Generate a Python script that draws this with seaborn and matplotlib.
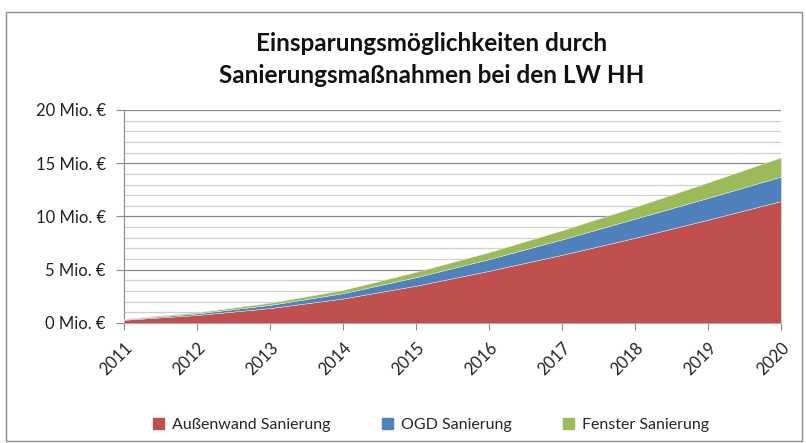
import pandas as pd
import matplotlib
matplotlib.use("Agg")
import matplotlib.pyplot as plt
import matplotlib.patches as mpatches
from matplotlib.ticker import MultipleLocator, FuncFormatter
import seaborn as sns

# data (Mio. EUR)
years = [2011, 2012, 2013, 2014, 2015, 2016, 2017, 2018, 2019, 2020]
aussenwand = [0.30, 0.75, 1.40, 2.30, 3.50, 4.90, 6.40, 8.00, 9.70, 11.45]
ogd = [0.06, 0.15, 0.30, 0.50, 0.80, 1.10, 1.45, 1.80, 2.05, 2.30]
fenster = [0.04, 0.10, 0.20, 0.30, 0.50, 0.65, 0.85, 1.10, 1.45, 1.80]
series_names = ["Außenwand Sanierung", "OGD Sanierung", "Fenster Sanierung"]

df = pd.DataFrame({"Jahr": years, series_names[0]: aussenwand,
                   series_names[1]: ogd, series_names[2]: fenster})

sns.set_style("white")
plt.rcParams['font.family'] = ['Lato', 'DejaVu Sans']
colors = ["#C0504D", "#4F81BD", "#9BBB59"]

fig = plt.figure(figsize=(8.06, 4.43), dpi=100)
# outer chart frame like the Excel chart area
fig.patches.append(mpatches.Rectangle((0.008, 0.005), 0.987, 0.968, transform=fig.transFigure,
                                      fill=False, edgecolor="#8c8c8c", linewidth=1.0))
ax = fig.add_axes([0.1538, 0.2709, 0.8152, 0.4808])

ax.stackplot(df["Jahr"], df[series_names[0]], df[series_names[1]], df[series_names[2]],
             colors=colors, labels=series_names, edgecolor="#f0f0f0", linewidth=0.3, zorder=3)

ax.set_xlim(2011, 2020)
ax.set_ylim(0, 20)
ax.yaxis.set_major_locator(MultipleLocator(5))
ax.yaxis.set_minor_locator(MultipleLocator(1))
ax.yaxis.set_major_formatter(FuncFormatter(lambda v, p: f"{int(v)} Mio. €"))
ax.grid(which="major", axis="y", color="#8a8a8a", linewidth=0.9, zorder=0)
ax.grid(which="minor", axis="y", color="#cfcfcf", linewidth=0.9, zorder=0)
ax.set_axisbelow(True)

ax.set_xticks(years)
ax.set_xticklabels([str(y) for y in years], rotation=45, ha="right", rotation_mode="anchor")

for side in ["top", "right"]:
    ax.spines[side].set_visible(False)
ax.spines["left"].set_color("#8a8a8a")
ax.spines["bottom"].set_color("#8a8a8a")
ax.tick_params(axis="x", which="major", direction="out", length=5, color="#8a8a8a",
               labelsize=12, labelcolor="#222222", pad=7, bottom=True)
ax.tick_params(axis="y", which="major", direction="out", length=6, color="#8a8a8a",
               labelsize=12, labelcolor="#222222", pad=7, left=True)
ax.tick_params(axis="y", which="minor", length=0)

fig.text(0.535, 0.902, "Einsparungsmöglichkeiten durch", ha="center", va="center",
         fontsize=17.5, fontweight="bold", color="#111111")
fig.text(0.535, 0.830, "Sanierungsmaßnahmen bei den LW HH", ha="center", va="center",
         fontsize=17.5, fontweight="bold", color="#111111")

handles = [mpatches.Patch(color=c, label=n) for c, n in zip(colors, series_names)]
fig.legend(handles=handles, loc="center", bbox_to_anchor=(0.535, 0.04), ncol=3, frameon=False,
           fontsize=11.5, handlelength=0.7, handleheight=0.7, handletextpad=0.5, columnspacing=3.2)

fig.savefig("out.png", dpi=100)
